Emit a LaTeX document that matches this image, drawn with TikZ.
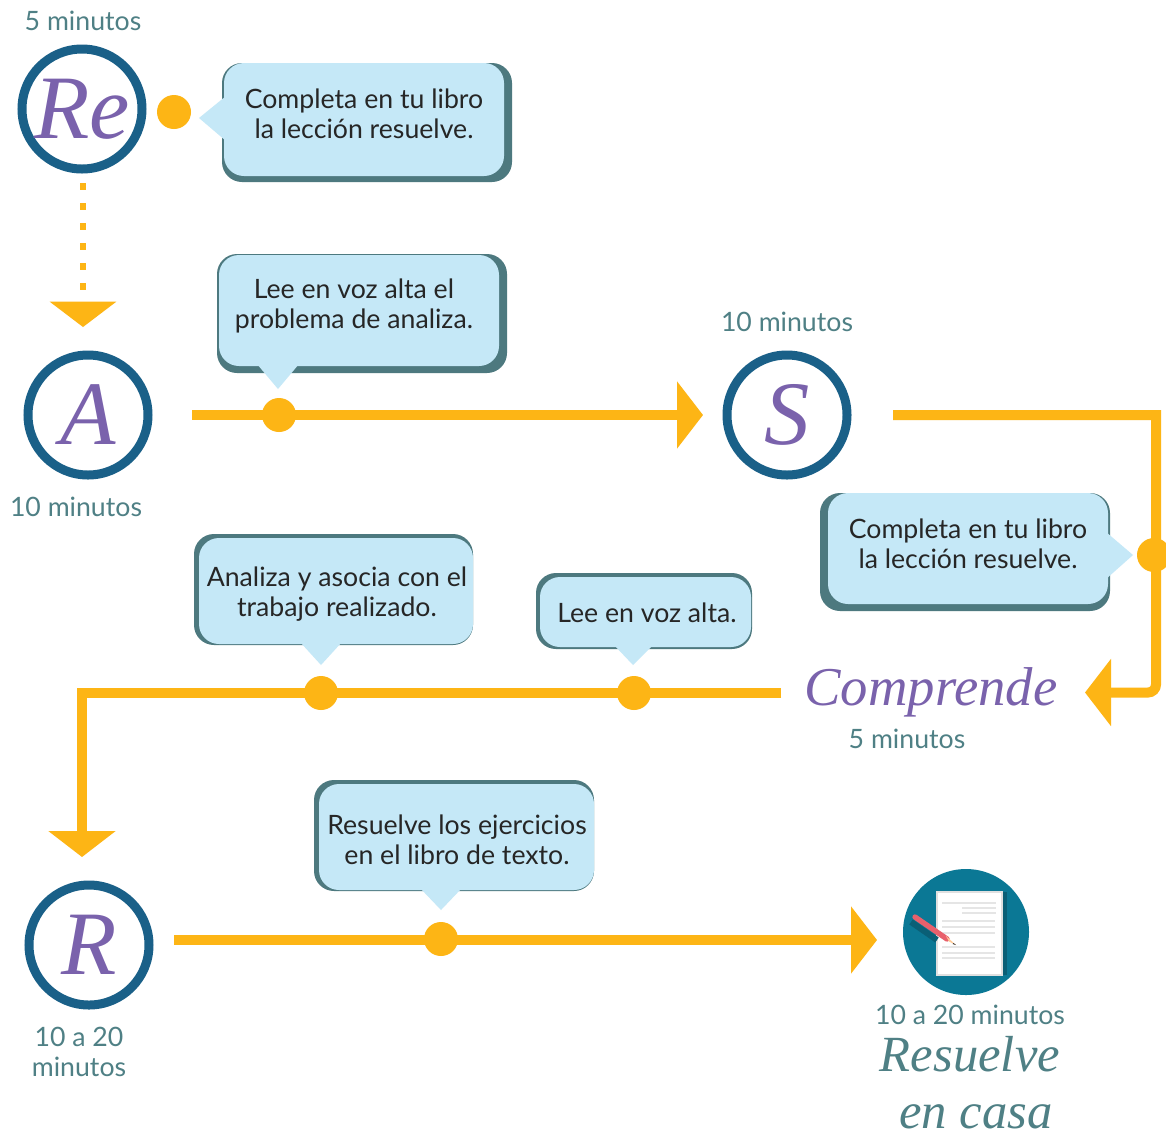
\documentclass[tikz,border=0pt]{standalone}
\usepackage{fontspec}
\setmainfont{Lato}
\newfontfamily\deco{Liberation Serif}[ItalicFont={Liberation Serif Italic}]
\usetikzlibrary{arrows.meta}
\definecolor{orangeC}{HTML}{FDB515}
\definecolor{ringC}{HTML}{1A6088}
\definecolor{lightC}{HTML}{C5E8F7}
\definecolor{darkC}{HTML}{4D797F}
\definecolor{labelC}{HTML}{4F8085}
\definecolor{purpleC}{HTML}{7A62AC}
\definecolor{tealC}{HTML}{0B7895}
\definecolor{tealD}{HTML}{0A5F76}
\definecolor{pencilC}{HTML}{E8606C}
\tikzset{
  x=0.75pt,y=-0.75pt,
  ringnode/.style={circle,draw=ringC,line width=6.75pt,fill=white,minimum size=90pt,inner sep=0pt,text=purpleC,font=\deco\itshape\fontsize{68}{68}\selectfont},
  timelabel/.style={text=labelC,font=\fontsize{20}{23}\selectfont,inner sep=0pt,align=center},
  bubbletext/.style={text=black!85,font=\fontsize{20}{22.5}\selectfont,inner sep=0pt,align=center},
  bdark/.style={fill=darkC,rounded corners=15pt},
  blight/.style={fill=lightC,rounded corners=15pt},
  bpoint/.style={fill=lightC},
  flow/.style={draw=orangeC,line width=7.5pt},
  flowtip/.style={-{Triangle[length=19.5pt,width=49.5pt,color=orangeC]}},
  dotted flow/.style={draw=orangeC,line width=4.5pt,dash pattern=on 5.25pt off 9.75pt,-{Triangle[length=19pt,width=50pt,color=orangeC,line width=0pt]}},
  flowdot/.style={circle,fill=orangeC,minimum size=25.5pt,inner sep=0pt},
  decotitle/.style={font=\deco\itshape\fontsize{41}{41}\selectfont,inner sep=0pt},
  decosmall/.style={font=\deco\itshape\fontsize{38}{38}\selectfont,inner sep=0pt},
  docline/.style={draw=black!10,line width=1.5pt},
}
\begin{document}
\begin{tikzpicture}
\useasboundingbox[fill=white] (0,0) rectangle (1166,1140);

% connectors' free ends
\coordinate (reS) at (83,183);
\coordinate (reE) at (83,327);
\coordinate (aOut) at (192,415);
\coordinate (sIn) at (703,415);
\coordinate (sOut) at (893,415);
\coordinate (cornerA) at (1156,415);
\coordinate (cornerB) at (1156,692.5);
\coordinate (cIn) at (1085,692.5);
\coordinate (cOut) at (781,692.5);
\coordinate (cornerC) at (82,692.5);
\coordinate (rIn) at (82,857);
\coordinate (rOut) at (174,940);
\coordinate (docIn) at (877,940);

% flows
\draw[dotted flow] (reS) -- (reE);
\draw[flow,flowtip] (aOut) -- (sIn);
\draw[flow,flowtip] (sOut) -- (cornerA) [rounded corners=6pt] -- (cornerB) -- (cIn);
\draw[flow,flowtip] (cOut) -- (cornerC) -- (rIn);
\draw[flow,flowtip] (rOut) -- (docIn);

% circles
\node[ringnode] (re) at (82,109) {Re};
\node[ringnode] (a) at (88,415) {A};
\node[ringnode] (s) at (787,415) {S};
\node[ringnode] (r) at (89,945) {R};

% dots
\node[flowdot] (d1) at (174,112) {};
\node[flowdot] (d2) at (279,415) {};
\node[flowdot] (d3) at (1154,555) {};
\node[flowdot] (d4) at (321,693) {};
\node[flowdot] (d5) at (634,693) {};
\node[flowdot] (d6) at (441,939) {};

% bubble 1
\fill[bdark] (222,63) rectangle (512,182);
\fill[blight] (224,63) rectangle (504,176);
\fill[bpoint] (199,118) -- (226,96) -- (226,141) -- cycle;
\node[bubbletext] (b1) at (364,114) {Completa en tu libro\\la lección resuelve.};

% bubble 2
\fill[bdark] (217,254) rectangle (507,373);
\fill[blight] (219,255) rectangle (499,366);
\fill[bpoint] (278,389) -- (257,364) -- (299,364) -- cycle;
\node[bubbletext] (b2) at (354,306) {Lee en voz alta el\\problema de analiza.};

% bubble 3
\fill[bdark] (820,493) rectangle (1110,611);
\fill[blight] (828,493) rectangle (1108,604);
\fill[bpoint] (1133,555) -- (1106,532) -- (1106,579) -- cycle;
\node[bubbletext] (b3) at (968,544) {Completa en tu libro\\la lección resuelve.};

% bubble 4
\fill[bdark] (194,534) rectangle (473,645);
\fill[blight] (199,538) rectangle (473,644);
\fill[bpoint] (321,665) -- (300,642) -- (342,642) -- cycle;
\node[bubbletext] (b4) at (337,594) {Analiza y asocia con el\\trabajo realizado.};

% bubble 5
\fill[bdark] (536,573) rectangle (752,649);
\fill[blight] (540,577) rectangle (751,647);
\fill[bpoint] (633,665) -- (614,645) -- (653,645) -- cycle;
\node[bubbletext] (b5) at (647,613) {Lee en voz alta.};

% bubble 6
\fill[bdark] (314,780) rectangle (594,891);
\fill[blight] (319,784) rectangle (594,890);
\fill[bpoint] (441,910) -- (420,888) -- (462,888) -- cycle;
\node[bubbletext] (b6) at (457,840) {Resuelve los ejercicios\\en el libro de texto.};

% time labels
\node[timelabel] (t1) at (83,21) {5 minutos};
\node[timelabel] (t2) at (76,507) {10 minutos};
\node[timelabel] (t3) at (787,322) {10 minutos};
\node[timelabel] (t4) at (907,739) {5 minutos};
\node[timelabel] (t5) at (79,1052) {10 a 20\\minutos};
\node[timelabel] (t6) at (970,1015) {10 a 20 minutos};

% titles
\node[decotitle,text=purpleC] (comp) at (931,692) {Comprende};
\node[decosmall,text=labelC] (res) at (970,1054) {Resuelve};
\node[decosmall,text=labelC] (casa) at (976,1117) {en casa};

% document icon
\fill[tealC] (966,932) circle[radius=63];
\fill[tealD] (940,892) rectangle (1007,975);
\fill[white] (937,892) rectangle (1002,975);
\draw[black!12,line width=1pt] (937,892) rectangle (1002,975);
\draw[docline] (942,903) -- (996,903);
\draw[docline] (962,908) -- (996,908);
\draw[docline] (962,913) -- (996,913);
\draw[docline] (942,921) -- (995,921);
\draw[docline] (942,927) -- (995,927);
\draw[docline] (942,933) -- (995,933);
\draw[docline] (942,947) -- (995,947);
\draw[docline] (942,953) -- (995,953);
\draw[docline] (942,958) -- (995,958);
\draw[tealD,line width=4.5pt] (911,922) -- (937,940);
\draw[pencilC,line width=4pt,line cap=round] (915,917) -- (947,939);
\fill[orange!40!white] (946,936) -- (949,941.5) -- (956,945) -- cycle;
\fill[black!80] (953.5,943) -- (956,945) -- (952.5,944) -- cycle;
\end{tikzpicture}
\end{document}
